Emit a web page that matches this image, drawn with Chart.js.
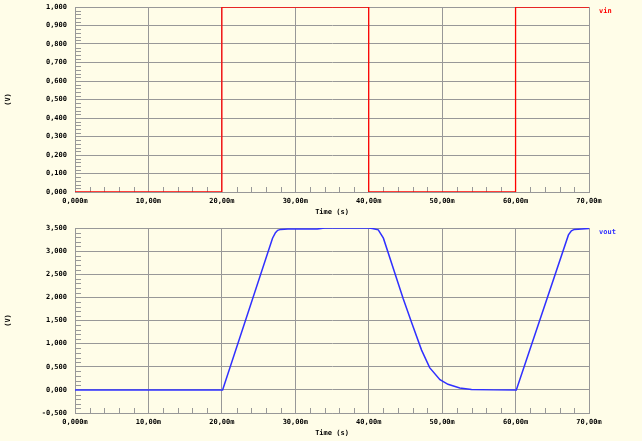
<!DOCTYPE html>
<html>
<head>
<meta charset="utf-8">
<script src="https://cdn.jsdelivr.net/npm/chart.js@4/dist/chart.umd.min.js"></script>
<style>
  html, body { margin: 0; padding: 0; background: #fffde8; }
  canvas { display: block; }
</style>
</head>
<body>
<canvas id="vin-chart" width="642" height="220"></canvas>
<canvas id="vout-chart" width="642" height="221"></canvas>
<script>
// time axis (ms)
const timeTicks = [0, 10, 20, 30, 40, 50, 60, 70];

// vin: square wave
const vinTime = [0, 20, 20, 40, 40, 60, 60, 70];
const vinValue = [0, 0, 1, 1, 0, 0, 1, 1];

// vout: ramp response
const voutTime = [0, 20, 20.1, 26.9, 27.3, 27.6, 28, 29, 33, 34, 40, 40.5, 41.3, 42.0, 44.7, 45.9, 47.2, 48.3, 49.7, 50.8, 52.4, 54, 57, 60.1, 67.2, 67.6, 68, 69, 70];
const voutValue = [0, 0, 0, 3.28, 3.4, 3.45, 3.47, 3.48, 3.48, 3.5, 3.5, 3.49, 3.46, 3.28, 1.97, 1.43, 0.86, 0.48, 0.22, 0.12, 0.04, 0.01, 0, 0, 3.35, 3.44, 3.47, 3.48, 3.49];

const vinTicks = [0, 0.1, 0.2, 0.3, 0.4, 0.5, 0.6, 0.7, 0.8, 0.9, 1.0];
const voutTicks = [-0.5, 0, 0.5, 1.0, 1.5, 2.0, 2.5, 3.0, 3.5];

const GRID = '#989898';
const FONT = { family: 'DejaVu Sans Mono', size: 7, weight: 'bold' };

function toPoints(xs, ys) {
    return xs.map((x, i) => ({ x: x, y: ys[i] }));
}

function fmtTime(v) {
    return v.toPrecision(4).replace('.', ',') + 'm';
}

function fmtVolt(v) {
    return v.toFixed(3).replace('.', ',');
}

// small inner tick marks between grid lines
const minorTicks = {
    id: 'minorTicks',
    beforeDatasetsDraw(chart) {
        const ctx = chart.ctx;
        const area = chart.chartArea;
        const xs = chart.scales.x;
        const ys = chart.scales.y;
        ctx.save();
        ctx.strokeStyle = GRID;
        ctx.lineWidth = 1;
        ctx.beginPath();
        const xStep = xs.options.ticks.stepSize / 5;
        for (let i = 1; xs.min + i * xStep < xs.max; i++) {
            if (i % 5 === 0) continue;
            const px = Math.round(xs.getPixelForValue(xs.min + i * xStep)) + 0.5;
            ctx.moveTo(px, area.bottom);
            ctx.lineTo(px, area.bottom - 5);
        }
        const yStep = ys.options.ticks.stepSize / 5;
        for (let i = 1; ys.min + i * yStep < ys.max - 1e-9; i++) {
            if (i % 5 === 0) continue;
            const py = Math.round(ys.getPixelForValue(ys.min + i * yStep)) + 0.5;
            ctx.moveTo(area.left, py);
            ctx.lineTo(area.left + 6, py);
        }
        ctx.stroke();
        ctx.restore();
    }
};

// series name at the right of the plot
const seriesLabel = {
    id: 'seriesLabel',
    afterDatasetsDraw(chart) {
        const ctx = chart.ctx;
        const ds = chart.data.datasets[0];
        ctx.save();
        ctx.font = 'bold 7px "DejaVu Sans Mono"';
        ctx.fillStyle = ds.borderColor;
        ctx.textBaseline = 'middle';
        ctx.fillText(ds.label, chart.chartArea.right + 10, chart.chartArea.top + 4);
        ctx.restore();
    }
};

function makeChart(id, label, color, width, xs, ys, yTicks, yStep, padTop) {
    const ctx = document.getElementById(id).getContext('2d');
    return new Chart(ctx, {
        type: 'line',
        data: {
            datasets: [
                {
                    label: label,
                    data: toPoints(xs, ys),
                    borderColor: color,
                    borderWidth: width,
                    pointRadius: 0,
                    tension: 0,
                    fill: false,
                },
            ],
        },
        options: {
            responsive: false,
            animation: false,
            layout: { padding: { top: padTop, right: 53, left: 0, bottom: 0 } },
            plugins: { legend: { display: false }, tooltip: { enabled: false } },
            scales: {
                x: {
                    type: 'linear',
                    min: timeTicks[0],
                    max: timeTicks[timeTicks.length - 1],
                    afterBuildTicks: (s) => { s.ticks = timeTicks.map(v => ({ value: v })); },
                    afterFit: (s) => { s.height = 28; },
                    grid: { color: GRID, lineWidth: 1, drawTicks: false },
                    border: { color: GRID },
                    ticks: {
                        stepSize: 10,
                        padding: 5,
                        color: '#000',
                        font: FONT,
                        maxRotation: 0,
                        callback: (v) => fmtTime(v),
                    },
                    title: { display: true, text: 'Time (s)', color: '#000', font: FONT },
                },
                y: {
                    min: yTicks[0],
                    max: yTicks[yTicks.length - 1],
                    afterBuildTicks: (s) => { s.ticks = yTicks.map(v => ({ value: v })); },
                    afterFit: (s) => {
                        s.width = 75;
                        s.paddingTop = 0;
                        s.paddingBottom = 0;
                    },
                    grid: { color: GRID, lineWidth: 1, drawTicks: false },
                    border: { color: GRID },
                    ticks: {
                        stepSize: yStep,
                        padding: 8,
                        color: '#000',
                        font: FONT,
                        callback: (v) => fmtVolt(v),
                    },
                    title: { display: true, text: '(V)', color: '#000', font: FONT },
                },
            },
        },
        plugins: [minorTicks, seriesLabel],
    });
}

makeChart('vin-chart', 'vin', '#ff0000', 1.3, vinTime, vinValue, vinTicks, 0.1, 7);
makeChart('vout-chart', 'vout', '#3030ff', 1.5, voutTime, voutValue, voutTicks, 0.5, 8);
</script>
</body>
</html>
